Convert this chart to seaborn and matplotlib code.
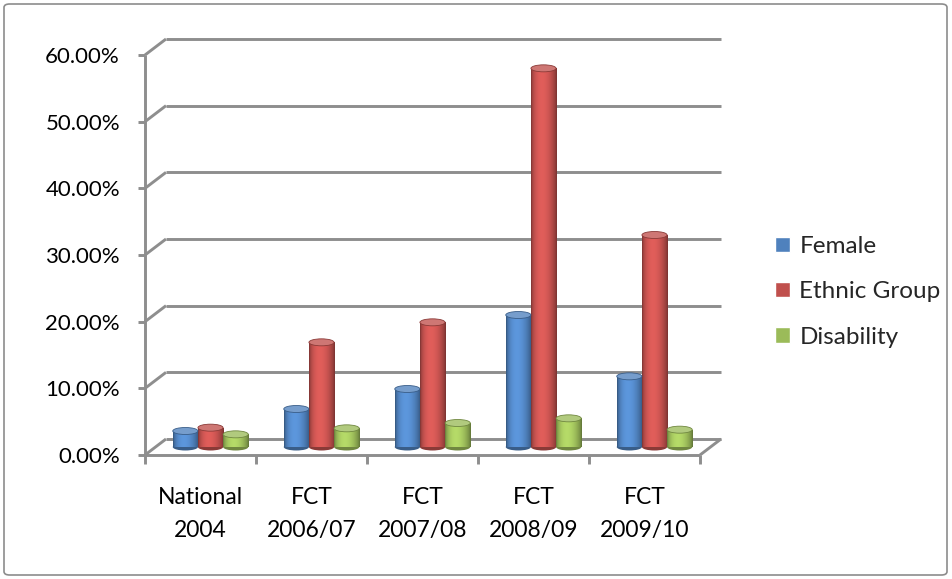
import numpy as np
import pandas as pd
import matplotlib.pyplot as plt
import matplotlib.transforms as mtransforms
from matplotlib.colors import to_rgb
from matplotlib.patches import Ellipse, FancyBboxPatch
import seaborn as sns

# chart data
periods = ['National\n2004', 'FCT\n2006/07', 'FCT\n2007/08', 'FCT\n2008/09', 'FCT\n2009/10']
female = [2.4, 5.7, 8.7, 19.8, 10.6]
ethnic = [2.9, 15.7, 18.7, 56.8, 31.8]
disability = [1.9, 2.8, 3.6, 4.3, 2.6]
groups = ['Female', 'Ethnic Group', 'Disability']
colors = ['#4F81BD', '#C0504D', '#9BBB59']
y_ticks = [0, 10, 20, 30, 40, 50, 60]

df = pd.DataFrame({
    'Period': periods * 3,
    'Value': female + ethnic + disability,
    'Group': [g for g in groups for _ in periods],
})

sns.set_theme(style='white')
plt.rcParams['font.family'] = ['Lato', 'DejaVu Sans']

DPI = 100
W, H = 952, 579
fig = plt.figure(figsize=(W / DPI, H / DPI), dpi=DPI)
ax = fig.add_axes([145 / W, (H - 455) / H, 555 / W, 400 / H])

sns.barplot(data=df, x='Period', y='Value', hue='Group', palette=colors,
            width=0.68, saturation=1, ax=ax, legend=True)

# depth offsets (pixels) for back wall and for the bars (mid depth)
back = mtransforms.ScaledTranslation(21 / DPI, 16 / DPI, fig.dpi_scale_trans)
mid = mtransforms.ScaledTranslation(10 / DPI, 8 / DPI, fig.dpi_scale_trans)
pix = mtransforms.IdentityTransform()
grid_kw = dict(color='#8e8e8e', lw=2.1, clip_on=False, solid_capstyle='butt', zorder=0)

x0, x1 = -0.5, len(periods) - 0.5
ax.set_xlim(x0, x1)
ax.set_ylim(0, 60)

for t in y_ticks:
    # back wall gridline
    ax.plot([x0, x1], [t, t], transform=ax.transData + back, **grid_kw)
    # connector from front axis to back wall
    p = ax.transData.transform((x0, t))
    q = (ax.transData + back).transform((x0, t))
    ax.plot([p[0], q[0]], [p[1], q[1]], transform=pix, **grid_kw)
    # tick mark on front axis
    ax.plot([p[0] - 7, p[0]], [p[1], p[1]], transform=pix, **grid_kw)

# floor front edge and right side
ax.plot([x0, x1], [0, 0], **grid_kw)
p = ax.transData.transform((x1, 0))
q = (ax.transData + back).transform((x1, 0))
ax.plot([p[0], q[0]], [p[1], q[1]], transform=pix, **grid_kw)
# front value axis
ax.plot([x0, x0], [0, 60], **grid_kw)
# category ticks
for i in range(len(periods) + 1):
    p = ax.transData.transform((x0 + i, 0))
    ax.plot([p[0], p[0]], [p[1], p[1] - 9], transform=pix, **grid_kw)

# cylinder look: horizontal shading, round caps
s = np.linspace(0, 1, 64)
shade = 0.62 + 0.55 * np.sin(np.pi * s ** 0.8) ** 0.7
cap_h = 7 * 60 / 400
bars = [b for b in ax.patches if b.get_height() > 0]
for b in bars:
    base = np.array(to_rgb(b.get_facecolor()))
    k = min(range(3), key=lambda j: np.abs(np.array(to_rgb(colors[j])) - base).sum())
    c = np.array(to_rgb(colors[k]))
    dark = c * 0.72
    light = np.clip(c + (1 - c) * 0.22, 0, 1)
    b.set_transform(ax.transData + mid)
    b.set_edgecolor('none')
    b.set_zorder(2)
    b.set_clip_on(False)
    x, w, h = b.get_x(), b.get_width(), b.get_height()
    grad = np.clip(c[None, :] * shade[:, None], 0, 1)
    img = ax.imshow(grad[None, :, :], extent=(x, x + w, 0, h), aspect='auto',
                    interpolation='bilinear', zorder=2.1)
    img.set_transform(ax.transData + mid)
    img.set_clip_path(b)
    cx = x + w / 2
    ax.add_patch(Ellipse((cx, 0), w, cap_h, facecolor=dark, edgecolor='none',
                         transform=ax.transData + mid, zorder=1.9, clip_on=False))
    ax.add_patch(Ellipse((cx, h), w, cap_h, facecolor=light, edgecolor=dark,
                         lw=0.6, transform=ax.transData + mid, zorder=3, clip_on=False))

ax.set_xlim(x0, x1)
ax.set_ylim(0, 60)
ax.set_yticks(y_ticks)
ax.set_yticklabels([f'{t:.2f}%' for t in y_ticks], fontsize=16, color='black')
ax.set_xticks(range(len(periods)))
ax.set_xticklabels(periods, fontsize=16.5, color='black', linespacing=1.7)
ax.tick_params(axis='y', length=0, pad=18)
ax.tick_params(axis='x', length=0, pad=23)
ax.set_xlabel('')
ax.set_ylabel('')
for sp in ax.spines.values():
    sp.set_visible(False)
ax.patch.set_alpha(0)

handles, labels = ax.get_legend_handles_labels()
ax.get_legend().remove()
fig.legend(handles, labels, loc='upper left', bbox_to_anchor=(758 / W, 1 - 219 / H),
           frameon=False, fontsize=17.5, handlelength=0.6, handleheight=0.6,
           handletextpad=0.4, labelspacing=1.0, borderpad=0.2)

# chart border
fig.patches.append(FancyBboxPatch((4 / W, 4 / H), 943 / W, 571 / H,
                                  boxstyle='round,pad=0,rounding_size=0.006',
                                  transform=fig.transFigure, facecolor='none',
                                  edgecolor='#8c8c8c', lw=1.2))

fig.savefig('out.png', dpi=DPI)
